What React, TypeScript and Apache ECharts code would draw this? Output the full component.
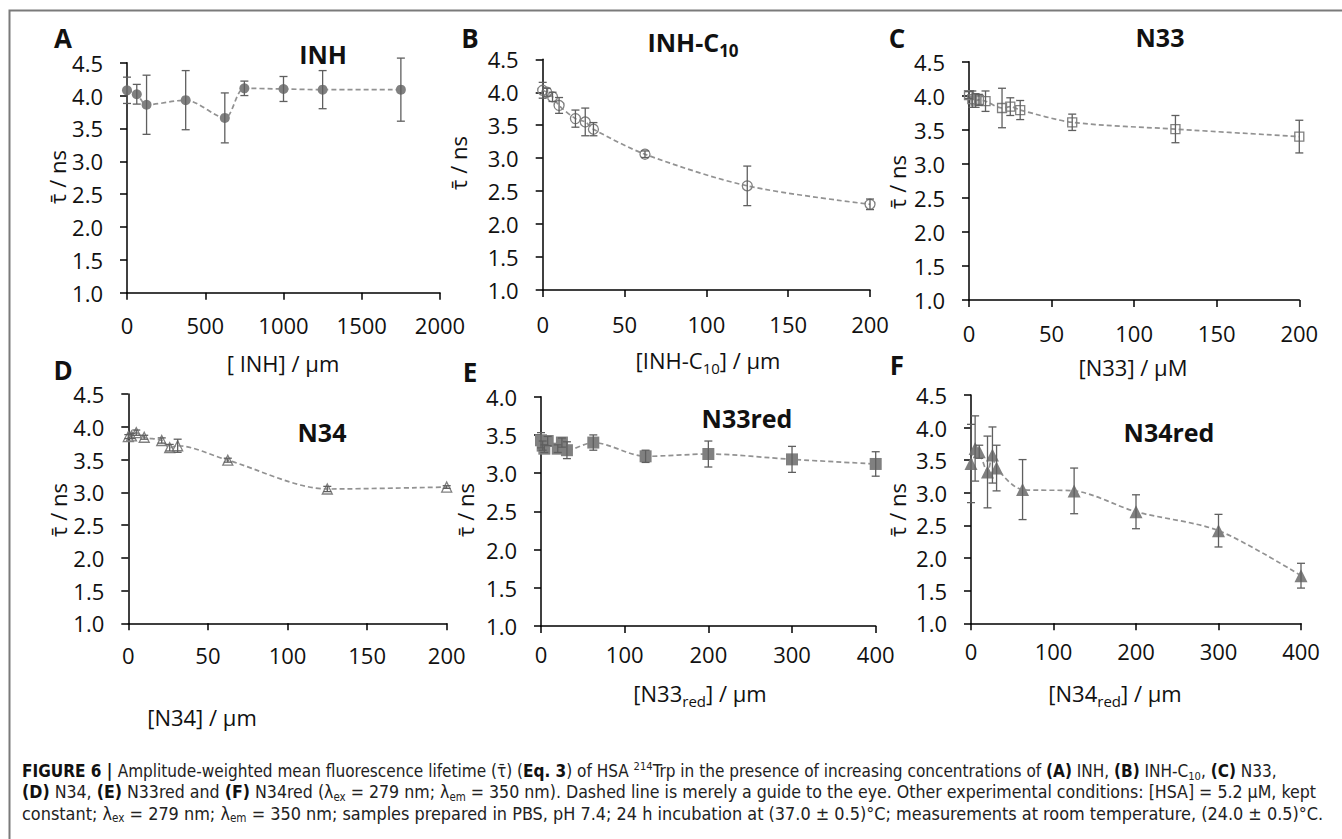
import React, { useEffect, useRef } from "react";
import * as echarts from "echarts";

// ---------- data ----------
const inhX = [0, 62.5, 125, 375, 625, 750, 1000, 1250, 1750];
const inhY = [4.08, 4.02, 3.86, 3.93, 3.66, 4.11, 4.1, 4.09, 4.09];
const inhErr = [0.2, 0.15, 0.45, 0.45, 0.38, 0.11, 0.19, 0.29, 0.48];

const inhC10X = [0, 2.5, 6, 10, 20, 26, 31, 62.5, 125, 200];
const inhC10Y = [4.03, 4.0, 3.93, 3.8, 3.6, 3.55, 3.44, 3.06, 2.58, 2.3];
const inhC10Err = [0.12, 0.06, 0.07, 0.12, 0.13, 0.21, 0.1, 0.05, 0.3, 0.08];

const n33X = [0, 2, 4, 6, 10, 20, 25, 31, 62.5, 125, 200];
const n33Y = [4.01, 3.95, 3.93, 3.94, 3.92, 3.82, 3.84, 3.79, 3.61, 3.51, 3.4];
const n33Err = [0.05, 0.12, 0.1, 0.08, 0.15, 0.29, 0.13, 0.14, 0.12, 0.2, 0.24];

const n34X = [0, 2, 5, 10, 21, 26, 31, 62.5, 125, 200];
const n34Y = [3.85, 3.86, 3.91, 3.84, 3.79, 3.68, 3.71, 3.49, 3.05, 3.08];
const n34Err = [0.03, 0.04, 0.04, 0.03, 0.04, 0.05, 0.1, 0.03, 0.04, 0.02];

const n33redX = [0, 2, 4, 8, 20, 25, 31, 62.5, 125, 200, 300, 400];
const n33redY = [3.43, 3.36, 3.32, 3.42, 3.32, 3.4, 3.3, 3.4, 3.22, 3.25, 3.18, 3.12];
const n33redErr = [0.1, 0.06, 0.05, 0.06, 0.05, 0.06, 0.11, 0.1, 0.08, 0.17, 0.17, 0.16];

const n34redX = [0, 5, 10, 20, 26, 31, 62.5, 125, 200, 300, 400];
const n34redY = [3.45, 3.68, 3.63, 3.32, 3.58, 3.38, 3.05, 3.03, 2.71, 2.42, 1.73];
const n34redErr = [0.6, 0.5, 0.1, 0.55, 0.43, 0.35, 0.46, 0.35, 0.26, 0.25, 0.19];

const yTicks45 = { min: 1, max: 4.5, interval: 0.5 };
const yTicks40 = { min: 1, max: 4, interval: 0.5 };

// ---------- layout ----------
const FONT = "'Open Sans', 'Noto Sans', sans-serif";
const CAP_FONT = "'Liberation Sans Narrow', 'DejaVu Sans Condensed', 'Liberation Sans', sans-serif";
const GRAY = "#808080";

type Panel = {
  x: number[];
  y: number[];
  err: number[];
  grid: { left: number; top: number; width: number; height: number };
  xMax: number;
  xInt: number;
  yAxis: { min: number; max: number; interval: number };
  symbol: string;
  size: number;
  hollow: boolean;
  xMargin: number;
};

const panels: Panel[] = [
  { x: inhX, y: inhY, err: inhErr, grid: { left: 127, top: 62.7, width: 313, height: 230 }, xMax: 2000, xInt: 500, yAxis: yTicks45, symbol: "circle", size: 10, hollow: false, xMargin: 21 },
  { x: inhC10X, y: inhC10Y, err: inhC10Err, grid: { left: 542.7, top: 59.3, width: 327.3, height: 230.7 }, xMax: 200, xInt: 50, yAxis: yTicks45, symbol: "circle", size: 10, hollow: true, xMargin: 23 },
  { x: n33X, y: n33Y, err: n33Err, grid: { left: 969, top: 61.7, width: 330.3, height: 238.3 }, xMax: 200, xInt: 50, yAxis: yTicks45, symbol: "rect", size: 9, hollow: true, xMargin: 22 },
  { x: n34X, y: n34Y, err: n34Err, grid: { left: 128.3, top: 394, width: 318.4, height: 229.3 }, xMax: 200, xInt: 50, yAxis: yTicks45, symbol: "triangle", size: 10, hollow: true, xMargin: 21 },
  { x: n33redX, y: n33redY, err: n33redErr, grid: { left: 541, top: 396.7, width: 334.7, height: 229.3 }, xMax: 400, xInt: 100, yAxis: yTicks40, symbol: "rect", size: 12, hollow: false, xMargin: 17 },
  { x: n34redX, y: n34redY, err: n34redErr, grid: { left: 971, top: 395, width: 330, height: 228.3 }, xMax: 400, xInt: 100, yAxis: yTicks45, symbol: "triangle", size: 13, hollow: false, xMargin: 17 },
];

const letters = [
  { t: "A", x: 63, y: 38 },
  { t: "B", x: 470, y: 38 },
  { t: "C", x: 897, y: 38 },
  { t: "D", x: 63, y: 370 },
  { t: "E", x: 470, y: 372 },
  { t: "F", x: 897, y: 365 },
];

const titles = [
  { t: "INH", x: 323, y: 54 },
  { t: "INH-C{tsub|10}", x: 693, y: 42 },
  { t: "N33", x: 1160, y: 37 },
  { t: "N34", x: 322, y: 432 },
  { t: "N33red", x: 747, y: 418 },
  { t: "N34red", x: 1169, y: 432 },
];

const xTitles = [
  { t: "[ INH] / µm", x: 283, y: 363 },
  { t: "[INH-C{asub|10}] / µm", x: 708, y: 360 },
  { t: "[N33] / µM", x: 1133, y: 367 },
  { t: "[N34] / µm", x: 202, y: 717 },
  { t: "[N33{asub|red}] / µm", x: 700, y: 693 },
  { t: "[N34{asub|red}] / µm", x: 1115, y: 693 },
];

const yTitles = [
  { x: 57, y: 177 },
  { x: 458, y: 163 },
  { x: 897, y: 182 },
  { x: 58, y: 510 },
  { x: 465, y: 510 },
  { x: 897, y: 510 },
];

const captionLines = [
  "{b|FIGURE 6 | }Amplitude-weighted mean fluorescence lifetime (τ̄) ({b|Eq. 3}) of HSA {sup|214}Trp in the presence of increasing concentrations of {b|(A)} INH, {b|(B)} INH-C{sub|10}, {b|(C)} N33,",
  "{b|(D)} N34, {b|(E)} N33red and {b|(F)} N34red (λ{sub|ex} = 279 nm; λ{sub|em} = 350 nm). Dashed line is merely a guide to the eye. Other experimental conditions: [HSA] = 5.2 µM, kept",
  "constant; λ{sub|ex} = 279 nm; λ{sub|em} = 350 nm; samples prepared in PBS, pH 7.4; 24 h incubation at (37.0 ± 0.5)°C; measurements at room temperature, (24.0 ± 0.5)°C.",
];
const captionY = [771, 792, 813];
const captionSize = [17.05, 17.6, 17.9];

function errRender(params: any, api: any) {
  const x = api.value(0);
  const lo = api.value(1);
  const hi = api.value(2);
  const p1 = api.coord([x, hi]);
  const p2 = api.coord([x, lo]);
  const w = 4;
  const st = { stroke: "#5f5f5f", lineWidth: 1.3 };
  return {
    type: "group",
    children: [
      { type: "line", shape: { x1: p1[0], y1: p1[1], x2: p2[0], y2: p2[1] }, style: st },
      { type: "line", shape: { x1: p1[0] - w, y1: p1[1], x2: p1[0] + w, y2: p1[1] }, style: st },
      { type: "line", shape: { x1: p2[0] - w, y1: p2[1], x2: p2[0] + w, y2: p2[1] }, style: st },
    ],
  };
}

function buildOption() {
  const grid: any[] = [];
  const xAxis: any[] = [];
  const yAxis: any[] = [];
  const series: any[] = [];
  const axisLine = { show: true, onZero: false, lineStyle: { color: "#000", width: 1.5 } };
  const axisTick = { show: true, inside: false, length: 7, lineStyle: { color: "#000", width: 1.5 } };
  panels.forEach((p, i) => {
    grid.push({ ...p.grid, containLabel: false });
    xAxis.push({
      type: "value", gridIndex: i, min: 0, max: p.xMax, interval: p.xInt,
      axisLine, axisTick, splitLine: { show: false },
      axisLabel: { margin: p.xMargin, fontSize: 22, color: "#111", fontFamily: FONT, showMaxLabel: true, showMinLabel: true, formatter: (v: number) => String(v) },
    });
    yAxis.push({
      type: "value", gridIndex: i, min: p.yAxis.min, max: p.yAxis.max, interval: p.yAxis.interval,
      axisLine, axisTick, splitLine: { show: false },
      axisLabel: { margin: 24, fontSize: 22, color: "#111", fontFamily: FONT, formatter: (v: number) => v.toFixed(1) },
    });
    series.push({
      type: "line", xAxisIndex: i, yAxisIndex: i, z: 2,
      data: p.x.map((x, k) => [x, p.y[k]]),
      smooth: 0.3,
      symbol: p.symbol, symbolSize: p.size, showSymbol: true,
      lineStyle: { color: "#929292", width: 1.7, type: [5, 3] },
      itemStyle: p.hollow
        ? { color: "rgba(255,255,255,0)", borderColor: GRAY, borderWidth: 1.3 }
        : { color: GRAY, borderColor: GRAY, borderWidth: 0 },
      emphasis: { disabled: true },
    });
    series.push({
      type: "custom", xAxisIndex: i, yAxisIndex: i, z: 3,
      data: p.x.map((x, k) => [x, p.y[k] - p.err[k], p.y[k] + p.err[k]]),
      encode: { x: 0, y: [1, 2] },
      renderItem: errRender,
    });
  });

  const graphic: any[] = [];
  graphic.push({
    type: "polyline",
    shape: { points: [[9.5, 839], [9.5, 10.5], [1342, 10.5]] },
    style: { stroke: "#7a7a7a", lineWidth: 2, fill: "none" },
  });
  letters.forEach((l) =>
    graphic.push({ type: "text", x: l.x, y: l.y, style: { text: l.t, fontFamily: FONT, fontSize: 26, fontWeight: "bold", fill: "#111", align: "center", verticalAlign: "middle" } })
  );
  titles.forEach((l) =>
    graphic.push({
      type: "text", x: l.x, y: l.y,
      style: {
        text: l.t, fontFamily: FONT, fontSize: 25, fontWeight: "bold", fill: "#111", align: "center", verticalAlign: "middle",
        rich: {
          tsub: { fontFamily: FONT, fontSize: 17, fontWeight: "bold", fill: "#111", verticalAlign: "bottom", lineHeight: 34 },
        },
      },
    })
  );
  xTitles.forEach((l) =>
    graphic.push({
      type: "text", x: l.x, y: l.y,
      style: {
        text: l.t, fontFamily: FONT, fontSize: 22, fill: "#111", align: "center", verticalAlign: "middle",
        rich: { asub: { fontFamily: FONT, fontSize: 15, fill: "#111", verticalAlign: "bottom", lineHeight: 31 } },
      },
    })
  );
  yTitles.forEach((l) =>
    graphic.push({
      type: "text", x: l.x, y: l.y, rotation: Math.PI / 2,
      style: { text: "τ̄ / ns", fontFamily: FONT, fontSize: 22, fill: "#111", align: "center", verticalAlign: "middle" },
    })
  );
  captionLines.forEach((t, i) => {
    const fs = captionSize[i];
    graphic.push({
      type: "text", x: 22, y: captionY[i],
      style: {
        text: t, fontFamily: CAP_FONT, fontSize: fs, fill: "#222", align: "left", verticalAlign: "middle",
        rich: {
          b: { fontFamily: CAP_FONT, fontSize: fs, fontWeight: "bold", fill: "#111", lineHeight: 20 },
          sub: { fontFamily: CAP_FONT, fontSize: fs * 0.65, fill: "#222", verticalAlign: "bottom", lineHeight: 21 },
          sup: { fontFamily: CAP_FONT, fontSize: fs * 0.65, fill: "#222", verticalAlign: "top", lineHeight: 20 },
        },
      },
    });
  });

  return { animation: false, backgroundColor: "#fff", grid, xAxis, yAxis, series, graphic };
}

export default function App() {
  const ref = useRef<HTMLDivElement>(null);
  useEffect(() => {
    if (!ref.current) return;
    const chart = echarts.init(ref.current, null, { renderer: "svg" });
    chart.setOption(buildOption() as any);
    return () => chart.dispose();
  }, []);
  return (
    <div
      ref={ref}
      style={{ position: "fixed", left: 0, top: 0, width: 1342, height: 839, background: "#fff" }}
    />
  );
}
